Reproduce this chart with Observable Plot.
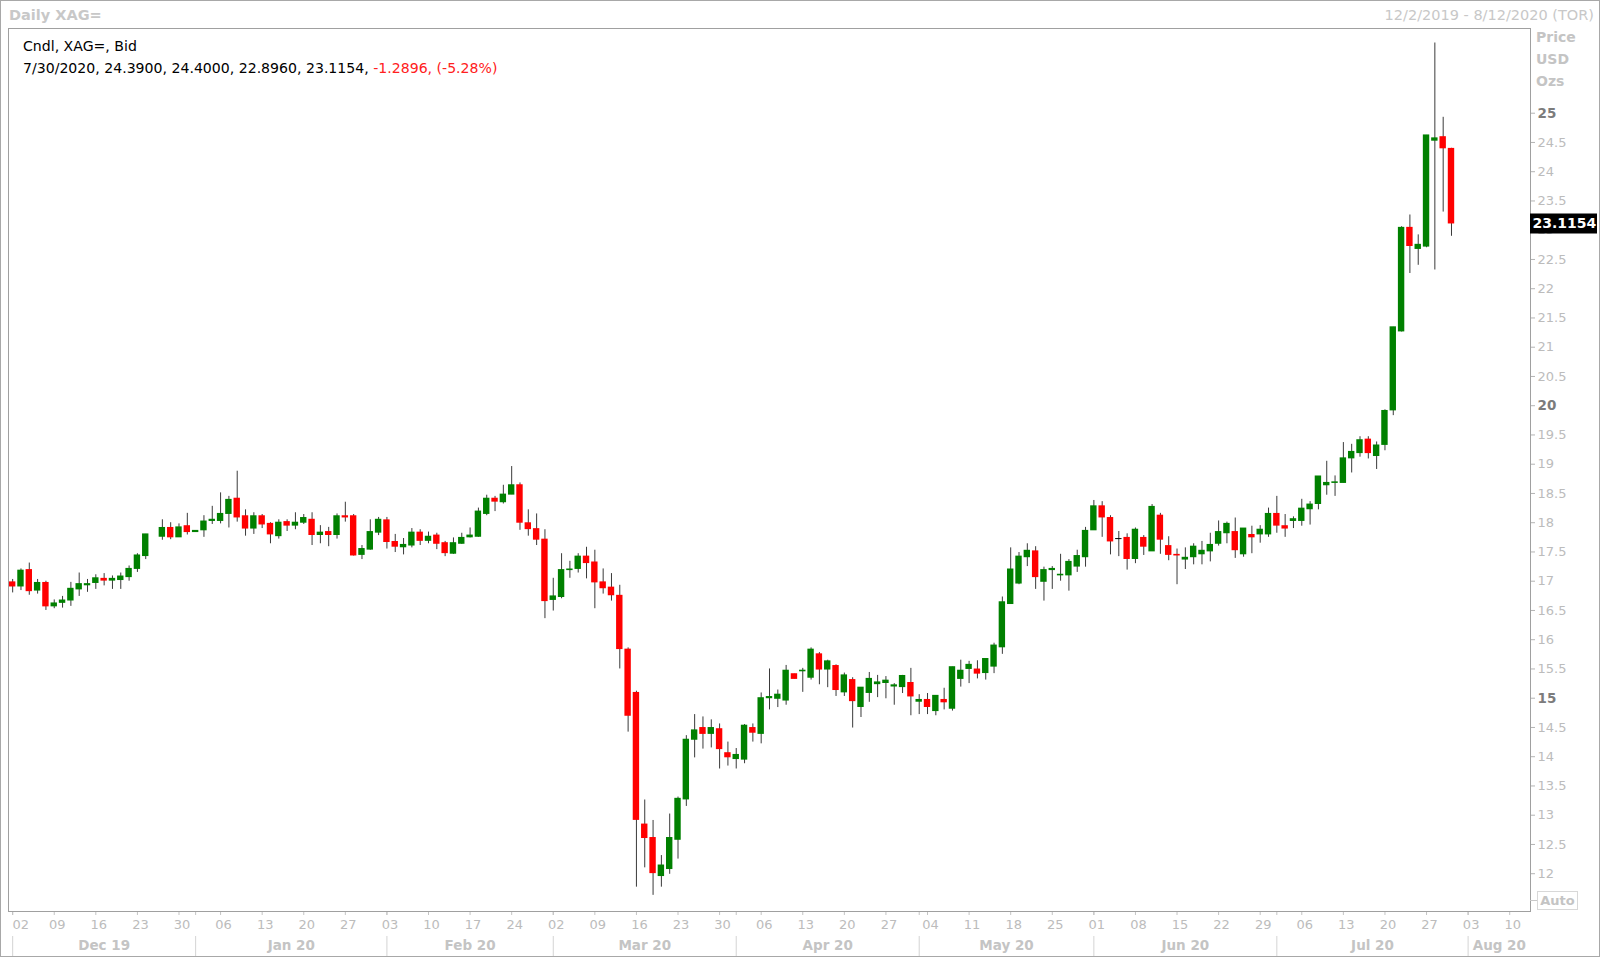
<!DOCTYPE html>
<html>
<head>
<meta charset="utf-8">
<script src="https://cdn.jsdelivr.net/npm/d3@7"></script>
<script src="https://cdn.jsdelivr.net/npm/@observablehq/plot@0.6"></script>
<style>
  html, body { margin: 0; padding: 0; background: #fff; }
  #wrap { position: relative; width: 1600px; height: 958px; overflow: hidden; font-family: "DejaVu Sans", Verdana, sans-serif; }
  #chart { position: absolute; left: 0; top: 0; }
  .abs { position: absolute; white-space: nowrap; }
  #border { position: absolute; left: 0; top: 0; width: 1600px; height: 957px; box-sizing: border-box; border: 1px solid #a8a8a8; pointer-events: none; }
</style>
</head>
<body>
<div id="wrap">
  <div id="chart"></div>
  <div id="border"></div>
  <div class="abs" style="left:9px; top:6px; font-size:14.5px; line-height:18px; font-weight:bold; color:#c8c8c8;">Daily XAG=</div>
  <div class="abs" style="right:6px; top:6px; font-size:14.5px; line-height:18px; color:#c8c8c8;">12/2/2019 - 8/12/2020 (TOR)</div>
  <div class="abs" style="left:23px; top:37px; font-size:14.1px; line-height:18px; color:#000;">Cndl, XAG=, Bid</div>
  <div class="abs" style="left:23px; top:59px; font-size:14.1px; line-height:18px; color:#000;">7/30/2020, 24.3900, 24.4000, 22.8960, 23.1154, <span style="color:#ff2020;">-1.2896, (-5.28%)</span></div>
  <div class="abs" style="left:1536px; top:27px; font-size:14px; line-height:21.8px; font-weight:bold; color:#c4c4c4;">Price<br>USD<br>Ozs</div>
  <div class="abs" style="left:1530px; top:900px; width:7px; height:0; border-top:1px solid #c8c8c8;"></div>
  <div class="abs" style="left:1537px; top:891px; width:41px; height:19px; box-sizing:border-box; border:1px solid #d8d8d8; font-size:13px; line-height:17px; font-weight:bold; color:#c4c4c4; text-align:center;">Auto</div>
</div>
<script>
// ---- Data ----
const dates = [
  "2019-12-02","2019-12-03","2019-12-04","2019-12-05","2019-12-06",
  "2019-12-09","2019-12-10","2019-12-11","2019-12-12","2019-12-13",
  "2019-12-16","2019-12-17","2019-12-18","2019-12-19","2019-12-20",
  "2019-12-23","2019-12-24","2019-12-26","2019-12-27",
  "2019-12-30","2019-12-31","2020-01-01","2020-01-02","2020-01-03",
  "2020-01-06","2020-01-07","2020-01-08","2020-01-09","2020-01-10",
  "2020-01-13","2020-01-14","2020-01-15","2020-01-16","2020-01-17",
  "2020-01-20","2020-01-21","2020-01-22","2020-01-23","2020-01-24",
  "2020-01-27","2020-01-28","2020-01-29","2020-01-30","2020-01-31",
  "2020-02-03","2020-02-04","2020-02-05","2020-02-06","2020-02-07",
  "2020-02-10","2020-02-11","2020-02-12","2020-02-13","2020-02-14",
  "2020-02-17","2020-02-18","2020-02-19","2020-02-20","2020-02-21",
  "2020-02-24","2020-02-25","2020-02-26","2020-02-27","2020-02-28",
  "2020-03-02","2020-03-03","2020-03-04","2020-03-05","2020-03-06",
  "2020-03-09","2020-03-10","2020-03-11","2020-03-12","2020-03-13",
  "2020-03-16","2020-03-17","2020-03-18","2020-03-19","2020-03-20",
  "2020-03-23","2020-03-24","2020-03-25","2020-03-26","2020-03-27",
  "2020-03-30","2020-03-31","2020-04-01","2020-04-02","2020-04-03",
  "2020-04-06","2020-04-07","2020-04-08","2020-04-09","2020-04-10",
  "2020-04-13","2020-04-14","2020-04-15","2020-04-16","2020-04-17",
  "2020-04-20","2020-04-21","2020-04-22","2020-04-23","2020-04-24",
  "2020-04-27","2020-04-28","2020-04-29","2020-04-30","2020-05-01",
  "2020-05-04","2020-05-05","2020-05-06","2020-05-07","2020-05-08",
  "2020-05-11","2020-05-12","2020-05-13","2020-05-14","2020-05-15",
  "2020-05-18","2020-05-19","2020-05-20","2020-05-21","2020-05-22",
  "2020-05-25","2020-05-26","2020-05-27","2020-05-28","2020-05-29",
  "2020-06-01","2020-06-02","2020-06-03","2020-06-04","2020-06-05",
  "2020-06-08","2020-06-09","2020-06-10","2020-06-11","2020-06-12",
  "2020-06-15","2020-06-16","2020-06-17","2020-06-18","2020-06-19",
  "2020-06-22","2020-06-23","2020-06-24","2020-06-25","2020-06-26",
  "2020-06-29","2020-06-30","2020-07-01","2020-07-02","2020-07-03",
  "2020-07-06","2020-07-07","2020-07-08","2020-07-09","2020-07-10",
  "2020-07-13","2020-07-14","2020-07-15","2020-07-16","2020-07-17",
  "2020-07-20","2020-07-21","2020-07-22","2020-07-23","2020-07-24",
  "2020-07-27","2020-07-28","2020-07-29","2020-07-30"
];
const open = [
  16.98,16.91,17.19,16.84,16.97, 16.57,16.63,16.67,16.86,16.93, 16.97,17.04,17.01,17.02,17.07,
  17.21,17.43,17.76,17.91, 17.75,17.94,17.84,17.87,18.03, 18.03,18.15,18.41,18.11,17.90,
  18.11,17.98,17.77,18.01,17.95, 18.00,18.05,17.79,17.84,17.79, 18.11,18.11,17.45,17.54,17.83,
  18.04,17.67,17.58,17.61,17.83, 17.69,17.78,17.65,17.47,17.64, 17.75,17.76,18.15,18.41,18.35,
  18.48,18.64,17.99,17.89,17.71, 16.68,16.73,17.19,17.21,17.42, 17.32,16.98,16.89,16.75,15.83,
  15.09,12.84,12.61,11.96,12.08, 12.58,13.27,14.29,14.49,14.39, 14.47,14.06,13.96,13.95,14.49,
  14.39,15.00,14.99,14.96,15.41, 15.46,15.35,15.75,15.49,15.55, 15.10,15.31,14.85,15.09,15.24,
  15.26,15.20,15.19,15.26,14.94, 14.97,14.78,14.97,14.82,15.33, 15.50,15.49,15.43,15.54,15.87,
  16.61,16.96,17.41,17.51,16.99, 17.19,17.10,17.10,17.25,17.41, 17.87,18.28,18.08,17.72,17.74,
  17.38,17.74,17.51,18.12,17.60, 17.45,17.37,17.41,17.46,17.51, 17.64,17.82,17.84,17.46,17.79,
  17.80,17.80,18.15,17.94,18.03, 18.03,18.23,18.32,18.64,18.68, 18.68,19.10,19.19,19.42,19.14,
  19.33,19.92,21.27,23.04,22.68, 22.72,24.53,24.59,24.39
];
const high = [
  17.03,17.21,17.31,17.03,17.00, 16.68,16.74,16.98,17.14,17.03, 17.11,17.13,17.09,17.14,17.26,
  17.47,17.80,18.05,18.00, 17.98,18.16,17.86,18.12,18.28, 18.51,18.45,18.88,18.22,18.17,
  18.14,18.00,18.05,18.05,18.17, 18.14,18.17,17.95,17.92,18.15, 18.35,18.14,17.61,18.05,18.09,
  18.09,17.80,17.73,17.90,17.88, 17.84,17.82,17.68,17.74,17.82, 17.91,18.25,18.47,18.45,18.64,
  18.96,18.68,18.22,18.15,17.88, 17.05,17.47,17.34,17.47,17.58, 17.53,17.21,17.13,16.93,15.86,
  15.12,13.26,12.91,12.31,13.02, 13.31,14.36,14.72,14.68,14.63, 14.56,14.25,14.14,14.55,14.56,
  15.09,15.50,15.14,15.56,15.41, 15.51,15.86,15.78,15.65,15.57, 15.43,15.35,15.18,15.44,15.39,
  15.37,15.25,15.39,15.51,15.06, 15.08,15.04,15.17,15.53,15.65, 15.63,15.64,15.67,15.94,16.73,
  17.57,17.49,17.64,17.59,17.24, 17.25,17.46,17.37,17.53,17.92, 18.38,18.36,18.12,17.85,17.81,
  17.91,17.78,18.31,18.16,17.76, 17.55,17.57,17.64,17.68,17.82, 18.03,18.01,18.08,17.90,17.94,
  17.95,18.25,18.45,18.14,18.10, 18.40,18.36,18.79,19.05,18.80, 19.37,19.34,19.47,19.47,19.38,
  19.93,21.34,23.06,23.26,22.92, 24.62,26.20,24.93,24.40
];
const low = [
  16.80,16.84,16.76,16.78,16.50, 16.53,16.54,16.57,16.74,16.81, 16.86,16.92,16.86,16.86,17.00,
  17.15,17.37,17.70,17.71, 17.75,17.79,17.84,17.75,17.97, 17.98,17.91,18.01,17.77,17.80,
  17.90,17.64,17.72,17.85,17.88, 17.97,17.61,17.64,17.59,17.72, 18.01,17.43,17.37,17.53,17.78,
  17.55,17.49,17.45,17.57,17.61, 17.64,17.54,17.42,17.46,17.63, 17.74,17.75,18.12,18.19,18.32,
  18.48,17.87,17.77,17.61,16.36, 16.49,16.70,17.05,17.14,17.04, 16.53,16.78,16.66,15.50,14.42,
  11.77,12.10,11.63,11.77,11.99, 12.25,13.15,13.98,14.13,14.15, 13.79,13.84,13.79,13.88,14.25,
  14.22,14.80,14.84,14.88,15.33, 15.10,15.31,15.23,15.18,15.03, 15.03,14.49,14.67,14.93,15.01,
  14.99,14.88,15.08,14.70,14.72, 14.72,14.70,14.80,14.78,15.19, 15.25,15.33,15.31,15.42,15.75,
  16.61,16.94,17.25,16.86,16.66, 16.86,17.00,16.83,17.15,17.24, 17.87,17.75,17.45,17.42,17.19,
  17.30,17.44,17.51,17.46,17.35, 16.94,17.20,17.28,17.28,17.33, 17.60,17.64,17.39,17.41,17.47,
  17.65,17.75,17.82,17.75,17.90, 17.94,17.96,18.22,18.47,18.45, 18.68,18.85,19.12,19.09,18.91,
  19.23,19.83,21.26,22.26,22.40, 22.70,22.32,23.31,22.896
];
const close = [
  16.91,17.18,16.83,16.97,16.57, 16.62,16.67,16.87,16.95,16.95, 17.05,17.01,17.04,17.08,17.21,
  17.44,17.80,17.91,17.75, 17.92,17.84,17.86,18.02,18.05, 18.15,18.39,18.09,17.90,18.11,
  17.97,17.80,18.00,17.95,18.00, 18.08,17.79,17.83,17.79,18.11, 18.09,17.44,17.55,17.84,18.05,
  17.67,17.59,17.62,17.83,17.69, 17.76,17.64,17.48,17.65,17.74, 17.78,18.19,18.41,18.36,18.48,
  18.64,18.00,17.89,17.71,16.66, 16.74,17.19,17.20,17.42,17.31, 16.98,16.88,16.76,15.84,14.70,
  12.92,12.61,12.01,12.14,12.61, 13.28,14.29,14.45,14.39,14.49, 14.13,13.99,14.03,14.53,14.41,
  15.00,15.02,15.06,15.47,15.33, 15.47,15.83,15.49,15.63,15.14, 15.39,14.95,15.18,15.33,15.27,
  15.30,15.22,15.38,15.03,14.97, 14.85,15.04,14.93,15.53,15.47, 15.57,15.42,15.67,15.90,16.64,
  17.20,17.42,17.52,17.07,17.19, 17.21,17.11,17.33,17.43,17.86, 18.28,18.09,17.68,17.72,17.38,
  17.88,17.59,18.27,17.71,17.45, 17.44,17.40,17.59,17.52,17.62, 17.84,17.98,17.53,17.90,17.75,
  17.88,18.15,17.95,17.90,18.06, 18.24,18.31,18.79,18.68,18.69, 19.10,19.21,19.41,19.19,19.32,
  19.91,21.34,23.04,22.73,22.75, 24.62,24.57,24.40,23.1154
];

// Axis labels
const dayLabels = ["02","09","16","23","30","06","13","20","27","03","10","17","24","02","09","16","23","30",
  "06","13","20","27","04","11","18","25","01","08","15","22","29","06","13","20","27","03","10"];
const mondayDates = ["2019-12-02","2019-12-09","2019-12-16","2019-12-23","2019-12-30","2020-01-06","2020-01-13",
  "2020-01-20","2020-01-27","2020-02-03","2020-02-10","2020-02-17","2020-02-24","2020-03-02","2020-03-09",
  "2020-03-16","2020-03-23","2020-03-30","2020-04-06","2020-04-13","2020-04-20","2020-04-27","2020-05-04",
  "2020-05-11","2020-05-18","2020-05-25","2020-06-01","2020-06-08","2020-06-15","2020-06-22","2020-06-29",
  "2020-07-06","2020-07-13","2020-07-20","2020-07-27","2020-08-03","2020-08-10"];
const monthLabels = ["Dec 19","Jan 20","Feb 20","Mar 20","Apr 20","May 20","Jun 20","Jul 20","Aug 20"];
const monthStartDates = ["2019-12-02","2020-01-01","2020-02-03","2020-03-02","2020-04-01","2020-05-01","2020-06-01","2020-07-01","2020-08-03"];
const yTicks = [12,12.5,13,13.5,14,14.5,15,15.5,16,16.5,17,17.5,18,18.5,19,19.5,20,20.5,21,21.5,22,22.5,23,23.5,24,24.5,25];
const lastDate = "2020-08-12";

// ---- trading-day index (weekdays since the first date) ----
const t0 = Date.UTC(2019, 11, 2);
function tradingIndex(s) {
  const [Y, M, D] = s.split("-").map(Number);
  const days = Math.round((Date.UTC(Y, M - 1, D) - t0) / 86400000);
  return Math.floor(days / 7) * 5 + (days % 7);
}

const candles = dates.map((d, k) => ({
  i: tradingIndex(d), open: open[k], high: high[k], low: low[k], close: close[k]
}));
const candleColor = d => d.close > d.open ? "#008000" : d.close < d.open ? "#ff0000" : "#000000";

const dayTicks = mondayDates.map((d, k) => ({i: tradingIndex(d), label: dayLabels[k]}));
const xEnd = tradingIndex(lastDate) + 0.5;
const monthStarts = monthStartDates.map(tradingIndex);
const monthMarks = monthLabels.map((m, k) => ({
  label: m,
  c: (monthStarts[k] + (k + 1 < monthStarts.length ? monthStarts[k + 1] : xEnd)) / 2
}));
const lastClose = close[close.length - 1];

// ---- layout constants ----
const W = 1600, H = 958, ML = 8, MR = 70, MT = 28, MB = 47;
const FW = W - ML - MR, FH = H - MT - MB;

const plot = Plot.plot({
  width: W, height: H,
  marginLeft: ML, marginRight: MR, marginTop: MT, marginBottom: MB,
  x: {type: "linear", domain: [-0.5, xEnd], axis: null},
  y: {type: "linear", domain: [11.354, 26.448], axis: null},
  style: {fontFamily: "'DejaVu Sans', Verdana, sans-serif", fontSize: "13px", background: "transparent", overflow: "visible"},
  marks: [
    // bottom day ticks and labels
    Plot.ruleX(dayTicks, {x: "i", insetTop: FH, insetBottom: -4, stroke: "#c4c4c4"}),
    Plot.text(dayTicks.slice(1), {x: "i", text: "label", frameAnchor: "bottom", dy: 17, dx: 3, fill: "#bcbcbc", fontSize: 13}),
    Plot.text(dayTicks.slice(0, 1), {x: "i", text: "label", frameAnchor: "bottom", dy: 17, dx: 8, fill: "#bcbcbc", fontSize: 13}),
    // month separators and labels
    Plot.ruleX(monthStarts, {x: d => d, insetTop: FH, insetBottom: -4, stroke: "#c4c4c4"}),
    Plot.ruleX(monthStarts, {x: d => d, insetTop: FH + 25, insetBottom: -45, stroke: "#d4d4d4"}),
    Plot.text(monthMarks, {x: "c", text: "label", frameAnchor: "bottom", dy: 38, fill: "#c4c4c4", fontWeight: "bold", fontSize: 13.5}),
    // right price axis
    Plot.ruleY(yTicks, {y: d => d, insetLeft: FW, insetRight: -5, stroke: "#b4b4b4"}),
    Plot.text(yTicks.filter(v => v % 5 !== 0), {y: d => d, text: d => String(d), frameAnchor: "right", dx: 7, textAnchor: "start", fill: "#bcbcbc", fontSize: 13}),
    Plot.text(yTicks.filter(v => v % 5 === 0), {y: d => d, text: d => String(d), frameAnchor: "right", dx: 7, textAnchor: "start", fill: "#7c7c7c", fontWeight: "bold", fontSize: 13.5}),
    // candles
    Plot.ruleX(candles, {x: "i", y1: "low", y2: "high", stroke: "#3a3a3a", strokeWidth: 1}),
    Plot.rect(candles, {x1: "i", x2: "i", y1: "open", y2: "close", fill: candleColor,
      insetLeft: -3.2, insetRight: -3.2, insetTop: -0.5, insetBottom: -0.5}),
    // frame
    Plot.frame({stroke: "#a0a0a0"}),
    // last price marker
    Plot.ruleY([lastClose], {y: d => d, insetLeft: FW, insetRight: -67, stroke: "#000", strokeWidth: 20}),
    Plot.text([lastClose], {y: d => d, text: d => d.toFixed(4), frameAnchor: "right", dx: 2, textAnchor: "start",
      fill: "#fff", fontWeight: "bold", fontSize: 14})
  ]
});
document.getElementById("chart").appendChild(plot);
</script>
</body>
</html>
